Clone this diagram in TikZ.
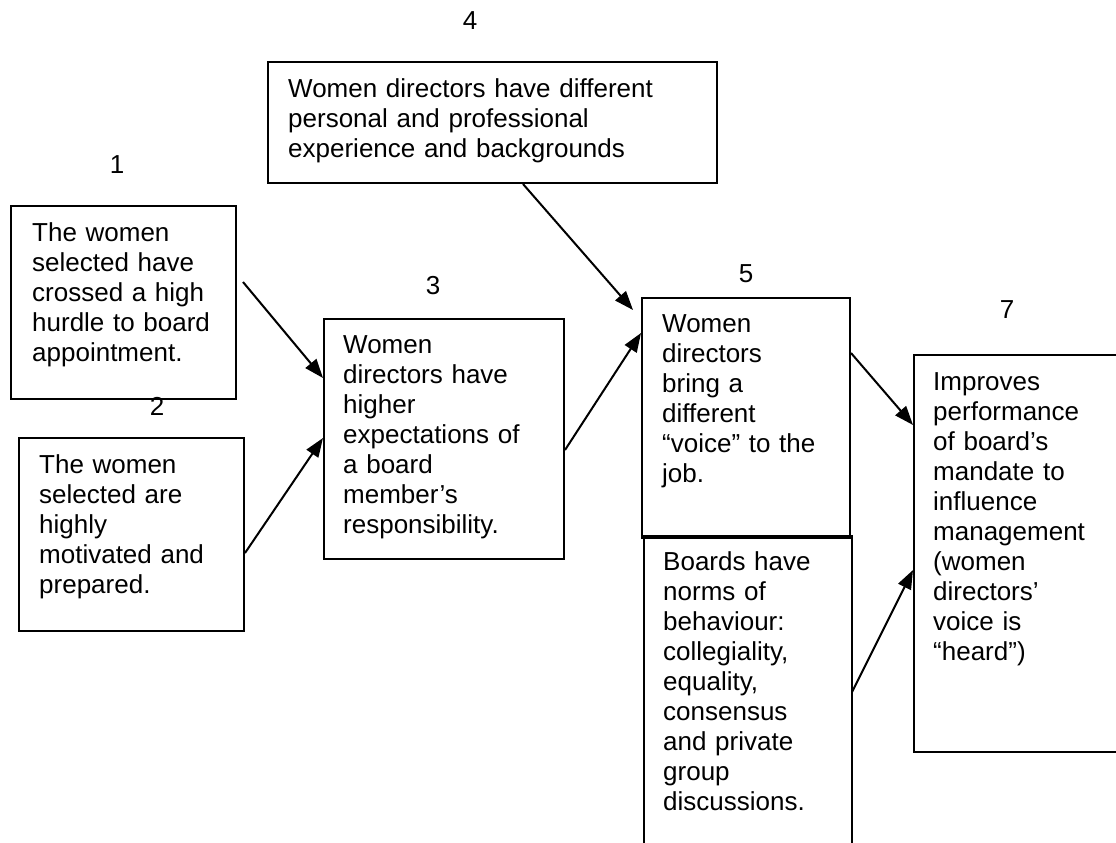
\documentclass[tikz,border=0pt]{standalone}
\usepackage{fontspec}
\setmainfont{Liberation Sans}
\usetikzlibrary{arrows.meta,calc}
\begin{document}
\begin{tikzpicture}[x=1pt,y=-1pt,
  boxnode/.style={draw=black,line width=2pt,rectangle,inner sep=0pt,anchor=north west},
  txt/.style={anchor=base west,inner sep=0pt,align=left,text width=440pt,font=\fontsize{26}{30}\selectfont},
  numlabel/.style={anchor=base,inner sep=0pt,font=\fontsize{26}{30}\selectfont},
  conn/.style={line width=2pt,-{Triangle[length=19pt,width=14pt]}}]
\useasboundingbox (0,0) rectangle (1116,843);
\clip (0,0) rectangle (1116,843);
\fill[white] (0,0) rectangle (1116,843);
% boxes
\node[boxnode,minimum width=225pt,minimum height=193pt] (b1) at (10,205) {};
\node[boxnode,minimum width=225pt,minimum height=193pt] (b2) at (18,437) {};
\node[boxnode,minimum width=240pt,minimum height=240pt] (b3) at (323,318) {};
\node[boxnode,minimum width=449pt,minimum height=121pt] (b4) at (267,61) {};
\node[boxnode,minimum width=208pt,minimum height=335pt] (b6) at (643,535) {};
\node[boxnode,minimum width=208pt,minimum height=240pt] (b5) at (641,297) {};
\node[boxnode,minimum width=215pt,minimum height=397pt] (b7) at (913,354) {};
% texts
\node[txt] (t1) at ($(b1.north west)+(22,36)$) {The women\\selected have\\crossed a high\\hurdle to board\\appointment.};
\node[txt] (t2) at ($(b2.north west)+(21,36)$) {The women\\selected are\\highly\\motivated and\\prepared.};
\node[txt] (t3) at ($(b3.north west)+(20,35)$) {Women\\directors have\\higher\\expectations of\\a board\\member’s\\responsibility.};
\node[txt] (t4) at ($(b4.north west)+(21,36)$) {Women directors have different\\personal and professional\\experience and backgrounds};
\node[txt] (t5) at ($(b5.north west)+(21,35)$) {Women\\directors\\bring a\\different\\“voice” to the\\job.};
\node[txt] (t6) at ($(b6.north west)+(20,35)$) {Boards have\\norms of\\behaviour:\\collegiality,\\equality,\\consensus\\and private\\group\\discussions.};
\node[txt] (t7) at ($(b7.north west)+(20,36)$) {Improves\\performance\\of board’s\\mandate to\\influence\\management\\(women\\directors’\\voice is\\“heard”)};
% number labels
\node[numlabel] (n1) at (117,173) {1};
\node[numlabel] (n2) at (157,415) {2};
\node[numlabel] (n3) at (433,294) {3};
\node[numlabel] (n4) at (470,30) {4};
\node[numlabel] (n5) at (746,282) {5};
\node[numlabel] (n7) at (1007,318) {7};
% connectors
\draw[conn] ($(b1.north east)+(6,77)$) -- ($(b3.north west)+(0,60)$);
\draw[conn] ($(b2.north east)+(0,116)$) -- ($(b3.north west)+(0,120)$);
\draw[conn] ($(b3.north east)+(0,132)$) -- ($(b5.north west)+(0,36)$);
\draw[conn] ($(b4.south west)+(256,0)$) -- ($(b5.north west)+(-8,13)$);
\draw[conn] ($(b5.north east)+(0,56)$) -- ($(b7.north west)+(0,71)$);
\draw[conn] ($(b6.north east)+(-1,157)$) -- ($(b7.north west)+(0,216)$);
\end{tikzpicture}
\end{document}
